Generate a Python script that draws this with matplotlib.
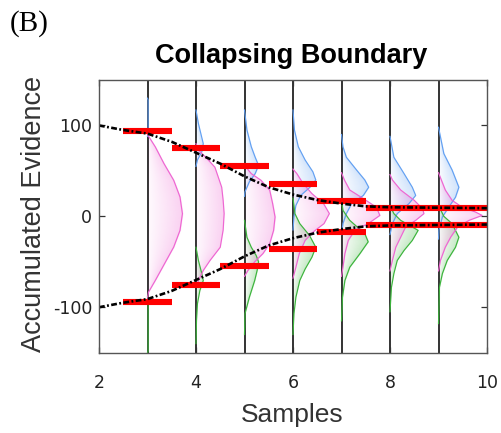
import numpy as np
import matplotlib
matplotlib.use("Agg")
import matplotlib.pyplot as plt
from matplotlib.colors import to_rgb

plt.rcParams["axes.unicode_minus"] = False

# ---- data -------------------------------------------------------------
samples = [3, 4, 5, 6, 7, 8, 9]
bound_samples = [3, 4, 5, 6, 7, 8, 9, 10]
bound_heights = [94, 75, 55, 36, 17, 9, 9, 9]

# continuous collapsing boundary (upper half; lower half is its mirror)
boundary_t = [2, 2.5, 3, 3.5, 4, 4.5, 5, 5.5, 6, 6.5, 7, 7.5, 8, 9, 10]
boundary_v = [100, 95, 91, 82, 70, 58, 44, 32, 24, 18, 14, 11, 10, 9.5, 9]

# evidence distributions per sample: levels (evidence) and widths (density)
blue_levels = [
    [130, 128, 90, 88],
    [117, 102, 91, 80, 71, 62, 55],
    [117, 95, 76.5, 65, 56, 47, 38, 27, 22],
    [117, 95, 76.5, 62, 49, 40, 32, 23, 12, -0.7, -15],
    [90, 76.5, 65, 51, 40, 32, 23, 14, 3, -8, -20],
    [88, 65, 47, 32, 23, 14, 3, -8, -20],
    [98, 69, 51, 32, 21, 10, -0.7, -15, -25],
]
blue_widths = [
    [0, 0.012, 0.012, 0],
    [0, 0.05, 0.10, 0.15, 0.12, 0.03, 0],
    [0, 0.05, 0.14, 0.22, 0.29, 0.22, 0.10, 0.01, 0],
    [0, 0.03, 0.11, 0.25, 0.41, 0.47, 0.35, 0.16, 0.06, 0.02, 0],
    [0, 0.03, 0.10, 0.31, 0.48, 0.56, 0.45, 0.21, 0.10, 0.03, 0],
    [0, 0.08, 0.29, 0.46, 0.53, 0.39, 0.15, 0.05, 0],
    [0, 0.11, 0.28, 0.42, 0.35, 0.21, 0.08, 0.01, 0],
]

pink_levels = [
    [90, 76.5, 58, 39.7, 21.3, 2.9, -15.4, -33.8, -52.2, -70.6, -83.5, -90],
    [80, 73, 64, 54, 32, 17.6, 3, -15, -34, -48.5, -59.6, -70.6, -78],
    [56, 47, 39.7, 28.7, 14, -0.7, -15.4, -30, -41, -50, -59.6, -66],
    [52, 47, 36, 25, 14, 3, -8, -17, -26.5, -41, -56, -68],
    [48, 40, 29, 19.5, 10, 1, -8, -15, -26.5, -41, -56, -66],
    [46, 40, 29, 17.6, 8.5, 3, -4.4, -12, -23, -34, -48.5, -60],
    [48, 29, 17.6, 10, 4.8, 1, -4.4, -12, -23, -34, -48.5, -60],
]
pink_widths = [
    [0, 0.16, 0.34, 0.54, 0.67, 0.72, 0.67, 0.54, 0.35, 0.16, 0.02, 0],
    [0, 0.05, 0.22, 0.39, 0.53, 0.56, 0.58, 0.56, 0.50, 0.29, 0.15, 0.05, 0],
    [0, 0.14, 0.34, 0.52, 0.58, 0.63, 0.60, 0.52, 0.38, 0.21, 0.07, 0],
    [0, 0.08, 0.21, 0.39, 0.63, 0.75, 0.64, 0.42, 0.25, 0.13, 0.06, 0],
    [0, 0.06, 0.17, 0.45, 0.72, 0.79, 0.55, 0.28, 0.14, 0.07, 0.03, 0],
    [0, 0.05, 0.22, 0.50, 0.67, 0.70, 0.53, 0.32, 0.22, 0.12, 0.05, 0],
    [0, 0.14, 0.28, 0.49, 0.76, 0.90, 0.63, 0.39, 0.25, 0.14, 0.04, 0],
]

green_levels = [
    [-88, -90, -148, -150],
    [-34, -48.5, -63, -70.6, -81.6, -96, -115, -140],
    [-4.4, -23, -34, -43, -50, -59.6, -70.6, -89, -107, -130],
    [20, 3, -8, -21, -34, -45, -58, -70.6, -89, -107, -130],
    [18, 6.6, -4.4, -19, -28, -41, -56, -70.6, -89, -115],
    [12, 3, -4.4, -15.4, -26.5, -37.5, -48.5, -63, -78, -105],
    [12, 0, -8, -23, -34, -48.5, -63, -78, -118],
]
green_widths = [
    [0, 0.012, 0.012, 0],
    [0, 0.05, 0.12, 0.15, 0.08, 0.03, 0.01, 0],
    [0, 0.05, 0.14, 0.24, 0.29, 0.26, 0.21, 0.10, 0.01, 0],
    [0, 0.04, 0.14, 0.34, 0.47, 0.39, 0.25, 0.14, 0.06, 0.02, 0],
    [0, 0.03, 0.17, 0.48, 0.55, 0.38, 0.17, 0.07, 0.02, 0],
    [0, 0.08, 0.22, 0.58, 0.46, 0.29, 0.15, 0.08, 0.03, 0],
    [0, 0.11, 0.28, 0.42, 0.35, 0.18, 0.08, 0.02, 0],
]

x_ticks = [2, 4, 6, 8, 10]
y_ticks = [-100, 0, 100]

# ---- styling ------------------------------------------------------------
BLUE = "#62a0f2"
PINK = "#ee66d2"
GREEN = "#3cb43c"
RED = "#ff0000"
YMIN, YMAX = -150, 150

fig = plt.figure(figsize=(5.01, 4.33), dpi=100)
ax = fig.add_axes([99 / 501, 1 - 352.7 / 433, 388 / 501, 272.7 / 433])
ax.set_xlim(2, 10)
ax.set_ylim(YMIN, YMAX)

yy = np.linspace(YMIN, YMAX, 900)
xx_frac = np.linspace(0, 1, 300)


def gradient_fill(n, levels, widths, color, a0=0.03, a1=0.30):
    # per-row shading: near white at the baseline, tinted towards the edge
    w = np.interp(yy, levels[::-1], widths[::-1], left=0, right=0)
    dx = xx_frac[None, :]
    wcol = w[:, None]
    inside = (wcol > 0) & (dx <= wcol)
    with np.errstate(divide="ignore", invalid="ignore"):
        frac = np.where(inside, dx / wcol, 0.0)
    rgba = np.zeros((yy.size, xx_frac.size, 4))
    rgba[..., :3] = to_rgb(color)
    rgba[..., 3] = np.where(inside, a0 + (a1 - a0) * np.clip(frac, 0, 1), 0)
    ax.imshow(rgba, extent=[n, n + 1, YMIN, YMAX], origin="lower",
              aspect="auto", interpolation="bilinear", zorder=2)
    ax.plot(n + np.asarray(widths), levels, color=color, lw=0.85,
            zorder=3, solid_joinstyle="round")


for i, n in enumerate(samples):
    ax.axvline(n, color="#111111", lw=1.2, zorder=1)
    gradient_fill(n, blue_levels[i], blue_widths[i], BLUE)
    gradient_fill(n, green_levels[i], green_widths[i], GREEN)
    gradient_fill(n, pink_levels[i], pink_widths[i], PINK)

# discrete decision bounds
bs = np.asarray(bound_samples, dtype=float)
bh = np.asarray(bound_heights, dtype=float)
ax.hlines(bh, bs - 0.5, bs + 0.5, color=RED, lw=4.4, zorder=4,
          capstyle="butt")
ax.hlines(-bh, bs - 0.5, bs + 0.5, color=RED, lw=4.4, zorder=4,
          capstyle="butt")

# continuous collapsing boundary
dash = (0, (2.2, 0.9, 0.7, 0.9))
bt = np.asarray(boundary_t)
bv = np.asarray(boundary_v)
ax.plot(bt, bv, color="black", lw=1.9, ls=dash, zorder=5)
ax.plot(bt, -bv, color="black", lw=1.9, ls=dash, zorder=5)

# ---- axes cosmetics --------------------------------------------------------
ax.set_xticks(x_ticks)
ax.set_yticks(y_ticks)
ax.tick_params(direction="in", length=4, width=0.9, color="#333333",
               right=True, top=True, labelsize=12.5, labelcolor="#222222")
ax.tick_params(axis="x", pad=15)
ax.tick_params(axis="y", pad=5)
for lab in ax.get_xticklabels() + ax.get_yticklabels():
    lab.set_family("DejaVu Sans")
for side, sp in ax.spines.items():
    sp.set_color("#555555")
    sp.set_linewidth(1.0)
    sp.set_zorder(6)

ax.set_xlabel("Samples", fontsize=19, family="Liberation Sans",
              color="#333333")
ax.xaxis.set_label_coords(0.497, -0.185)
ax.set_ylabel("Accumulated Evidence", fontsize=19.5, family="Liberation Sans",
              color="#333333")
ax.yaxis.set_label_coords(-0.133, 0.51)

ax.text(0.496, 1.062, "Collapsing Boundary", transform=ax.transAxes,
        ha="center", va="baseline", fontsize=19.5, fontweight="bold",
        family="Liberation Sans", color="black")
fig.text(10 / 501, 1 - 31 / 433, "(B)", ha="left", va="baseline",
         fontsize=21, family="Liberation Serif", color="black")

fig.savefig("out.png", dpi=100)
